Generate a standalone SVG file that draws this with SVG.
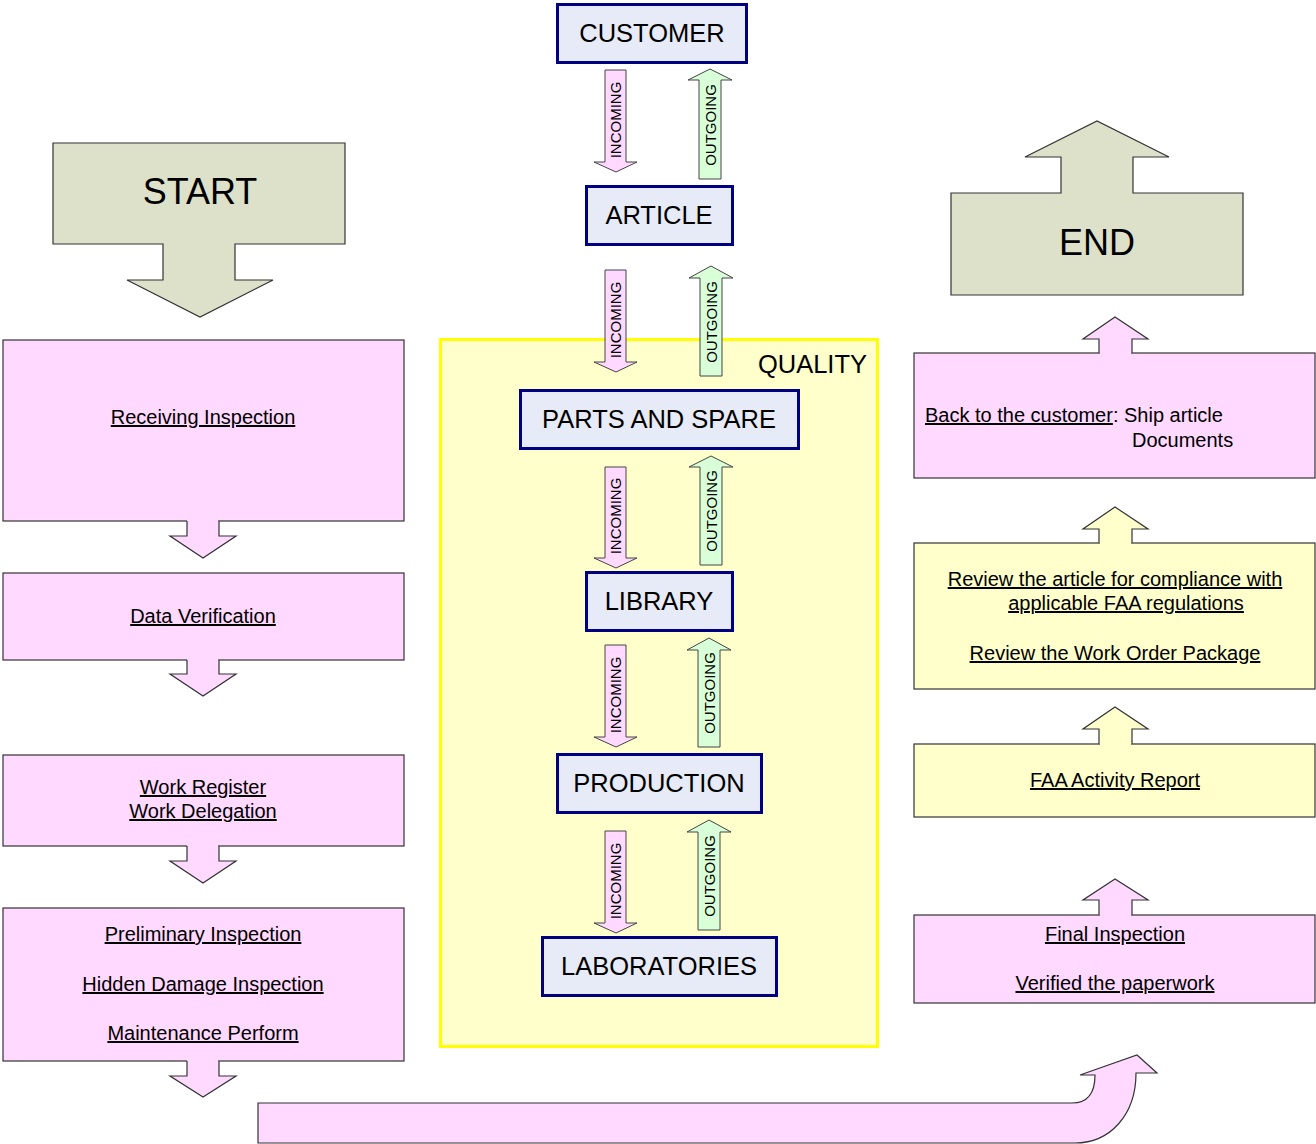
<svg xmlns="http://www.w3.org/2000/svg" width="1316" height="1144" viewBox="0 0 1316 1144">
<style>
text{font-family:"Liberation Sans",Arial,sans-serif;fill:#000}
.pink{fill:#ffd9ff;stroke:#333;stroke-width:1.2}
.yel{fill:#ffffcc;stroke:#333;stroke-width:1.2}
.fillp{fill:#ffd9ff;stroke:none}
.filly{fill:#ffffcc;stroke:none}
.edge{fill:none;stroke:#333;stroke-width:1.2;stroke-linejoin:miter}
.se{fill:#dee1ca;stroke:#333;stroke-width:1.2}
.mid{fill:#e6ebf7;stroke:#000080;stroke-width:3}
.inc{fill:#ffd9ff;stroke:#444;stroke-width:1}
.out{fill:#d9ffd9;stroke:#444;stroke-width:1}
.big{font-size:36px}
.mt{font-size:25.5px;text-anchor:middle}
.bt{font-size:20px;text-anchor:middle;text-decoration:underline}
.rt{font-size:15px;text-anchor:middle;dominant-baseline:central}
</style>

<g id="quality">
  <rect x="440.5" y="339.5" width="437" height="707" fill="#ffffcc" stroke="#ffff00" stroke-width="3"/>
  <text x="867" y="373" font-size="25.5" text-anchor="end">QUALITY</text>
</g>

<g id="start">
  <path class="se" d="M53,143 H345 V244 H235 V280 H273 L200,317 L127,280 H163 V244 H53 Z"/>
  <text class="big" x="200" y="204" text-anchor="middle">START</text>
</g>

<g id="end">
  <path class="se" d="M951,295 H1243 V193 H1133 V157 H1169 L1097,121 L1025,157 H1061 V193 H951 Z"/>
  <text class="big" x="1097" y="255" text-anchor="middle">END</text>
</g>

<g id="customer">
  <rect class="mid" x="557.5" y="4.5" width="189" height="58"/>
  <text class="mt" x="652" y="42">CUSTOMER</text>
</g>
<g id="article">
  <rect class="mid" x="586.5" y="186.5" width="146" height="58"/>
  <text class="mt" x="659" y="224">ARTICLE</text>
</g>
<g id="parts">
  <rect class="mid" x="520.5" y="390.5" width="278" height="58"/>
  <text class="mt" x="659" y="428">PARTS AND SPARE</text>
</g>
<g id="library">
  <rect class="mid" x="586.5" y="572.5" width="146" height="58"/>
  <text class="mt" x="659" y="610">LIBRARY</text>
</g>
<g id="production">
  <rect class="mid" x="557.5" y="754.5" width="204" height="58"/>
  <text class="mt" x="659" y="792">PRODUCTION</text>
</g>
<g id="laboratories">
  <rect class="mid" x="542.5" y="937.5" width="234" height="58"/>
  <text class="mt" x="659" y="975">LABORATORIES</text>
</g>

<g id="receiving">
  <rect class="pink" x="3" y="340" width="401" height="181"/>
  <text class="bt" x="203" y="424">Receiving Inspection</text>
</g>
<g id="dataverif">
  <rect class="pink" x="3" y="573" width="401" height="87"/>
  <text class="bt" x="203" y="623">Data Verification</text>
</g>
<g id="workreg">
  <rect class="pink" x="3" y="755" width="401" height="91"/>
  <text class="bt" x="203" y="794">Work Register</text>
  <text class="bt" x="203" y="818">Work Delegation</text>
</g>
<g id="prelim">
  <rect class="pink" x="3" y="908" width="401" height="153"/>
  <text class="bt" x="203" y="941">Preliminary Inspection</text>
  <text class="bt" x="203" y="991">Hidden Damage Inspection</text>
  <text class="bt" x="203" y="1040">Maintenance Perform</text>
</g>

<g id="backcust">
  <rect class="pink" x="914" y="353" width="401" height="125"/>
  <text x="925" y="422" font-size="20"><tspan text-decoration="underline">Back to the customer</tspan>: Ship article</text>
  <text x="1132" y="447" font-size="20">Documents</text>
</g>
<g id="review">
  <rect class="yel" x="914" y="543" width="401" height="146"/>
  <text class="bt" x="1115" y="586">Review the article for compliance with</text>
  <text class="bt" x="1126" y="610">applicable FAA regulations</text>
  <text class="bt" x="1115" y="660">Review the Work Order Package</text>
</g>
<g id="faa">
  <rect class="yel" x="914" y="744" width="401" height="73"/>
  <text class="bt" x="1115" y="787">FAA Activity Report</text>
</g>
<g id="final">
  <rect class="pink" x="914" y="915" width="401" height="88"/>
  <text class="bt" x="1115" y="941">Final Inspection</text>
  <text class="bt" x="1115" y="990">Verified the paperwork</text>
</g>

<g id="connectors">
  <!-- left down arrows -->
  <rect class="fillp" x="187" y="519" width="31" height="4"/>
  <path class="inc" style="stroke:#333;stroke-width:1.2" d="M187,521 V536 H170 L203,558 L236,536 H219 V521"/>
  <rect class="fillp" x="187" y="658" width="31" height="4"/>
  <path class="inc" style="stroke:#333;stroke-width:1.2" d="M187,660 V674 H170 L203,696 L236,674 H219 V660"/>
  <rect class="fillp" x="187" y="844" width="31" height="4"/>
  <path class="inc" style="stroke:#333;stroke-width:1.2" d="M187,846 V861 H170 L203,883 L236,861 H219 V846"/>
  <rect class="fillp" x="187" y="1059" width="31" height="4"/>
  <path class="inc" style="stroke:#333;stroke-width:1.2" d="M187,1061 V1076 H170 L203,1097 L236,1076 H219 V1061"/>

  <!-- right up arrows -->
  <rect class="fillp" x="1100" y="351" width="31" height="4"/>
  <path class="inc" style="stroke:#333;stroke-width:1.2" d="M1099,353 V339 H1083 L1115,317 L1148,339 H1132 V353"/>
  <rect class="filly" x="1100" y="541" width="31" height="4"/>
  <path class="out" style="fill:#ffffcc;stroke:#333;stroke-width:1.2" d="M1099,543 V529 H1083 L1115,507 L1148,529 H1132 V543"/>
  <rect class="filly" x="1100" y="742" width="31" height="4"/>
  <path class="out" style="fill:#ffffcc;stroke:#333;stroke-width:1.2" d="M1099,744 V729 H1083 L1115,707 L1148,729 H1132 V744"/>
  <rect class="fillp" x="1100" y="913" width="31" height="4"/>
  <path class="inc" style="stroke:#333;stroke-width:1.2" d="M1099,915 V900 H1083 L1115,879 L1148,900 H1132 V915"/>

  <!-- curved arrow -->
  <path class="pink" d="M258,1103 H1072 C1088,1103 1095,1092 1095,1075 H1080 L1137,1055 L1157,1073 H1136 C1136,1115 1110,1143 1075,1143 H258 Z"/>

  <!-- incoming / outgoing pairs -->
  <path class="inc" d="M605,70 V162 H594 L616,172 L637,162 H626 V70 Z"/>
  <text class="rt" transform="rotate(-90 615.5 120)" x="615.5" y="120">INCOMING</text>
  <path class="out" d="M699,179 V80 H688 L710,69 L732,80 H721 V179 Z"/>
  <text class="rt" transform="rotate(-90 710 125)" x="710" y="125">OUTGOING</text>

  <path class="inc" d="M605,270 V362 H594 L616,372 L637,362 H626 V270 Z"/>
  <text class="rt" transform="rotate(-90 615.5 320)" x="615.5" y="320">INCOMING</text>
  <path class="out" d="M700,376 V278 H689 L711,266 L733,278 H722 V376 Z"/>
  <text class="rt" transform="rotate(-90 711 322)" x="711" y="322">OUTGOING</text>

  <path class="inc" d="M605,467 V558 H594 L616,568 L637,558 H626 V467 Z"/>
  <text class="rt" transform="rotate(-90 615.5 516)" x="615.5" y="516">INCOMING</text>
  <path class="out" d="M700,565 V467 H689 L711,456 L733,467 H722 V565 Z"/>
  <text class="rt" transform="rotate(-90 711 511)" x="711" y="511">OUTGOING</text>

  <path class="inc" d="M605,645 V737 H594 L616,747 L637,737 H626 V645 Z"/>
  <text class="rt" transform="rotate(-90 615.5 695)" x="615.5" y="695">INCOMING</text>
  <path class="out" d="M698,747 V650 H687 L709,638 L731,650 H720 V747 Z"/>
  <text class="rt" transform="rotate(-90 709 693)" x="709" y="693">OUTGOING</text>

  <path class="inc" d="M605,831 V923 H594 L616,933 L637,923 H626 V831 Z"/>
  <text class="rt" transform="rotate(-90 615.5 881)" x="615.5" y="881">INCOMING</text>
  <path class="out" d="M698,930 V832 H687 L709,820 L731,832 H720 V930 Z"/>
  <text class="rt" transform="rotate(-90 709 876)" x="709" y="876">OUTGOING</text>
</g>
</svg>
